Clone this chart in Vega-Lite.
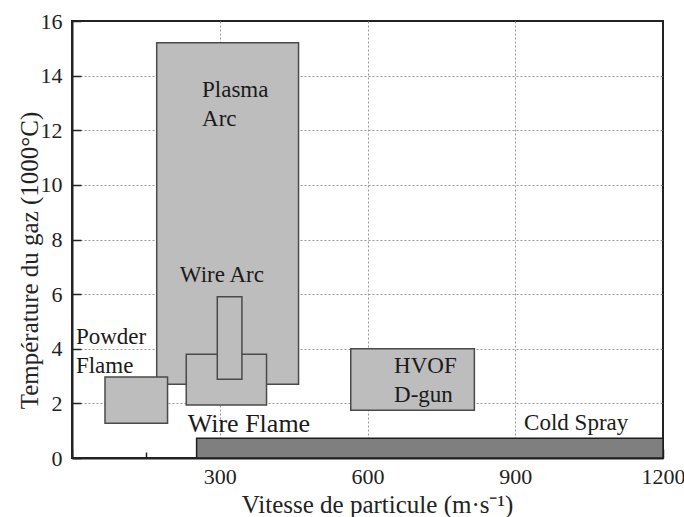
{
  "$schema": "https://vega.github.io/schema/vega-lite/v6.json",
  "width": 591,
  "height": 437,
  "autosize": "none",
  "padding": {"left": 72, "top": 21, "right": 21, "bottom": 59},
  "background": "white",
  "config": {
    "view": {"stroke": "#222222", "strokeWidth": 2},
    "font": "Liberation Serif"
  },
  "datasets": {
    "rects": [
      {"name": "Plasma Arc", "x": 172, "x2": 460, "y": 2.7, "y2": 15.2, "kind": "light"},
      {"name": "Powder Flame", "x": 67, "x2": 194, "y": 1.27, "y2": 2.97, "kind": "light"},
      {"name": "Wire Flame", "x": 232, "x2": 395, "y": 1.94, "y2": 3.8, "kind": "light"},
      {"name": "Wire Arc", "x": 295, "x2": 345, "y": 2.88, "y2": 5.9, "kind": "light"},
      {"name": "HVOF D-gun", "x": 566, "x2": 817, "y": 1.75, "y2": 4.0, "kind": "light"},
      {"name": "Cold Spray", "x": 253, "x2": 1200, "y": 0, "y2": 0.72, "kind": "dark"}
    ],
    "labels": [
      {"label": "Plasma", "x": 264, "y": 13.23},
      {"label": "Arc", "x": 264, "y": 12.17},
      {"label": "Wire Arc", "x": 219, "y": 6.44},
      {"label": "Powder", "x": 8, "y": 4.17},
      {"label": "Flame", "x": 8, "y": 3.12},
      {"label": "Wire Flame", "x": 235, "y": 0.96},
      {"label": "HVOF", "x": 654, "y": 3.12},
      {"label": "D-gun", "x": 654, "y": 2.06},
      {"label": "Cold Spray", "x": 918, "y": 1.03}
    ]
  },
  "layer": [
    {
      "data": {"name": "rects"},
      "mark": {"type": "rect", "strokeWidth": 1.5},
      "encoding": {
        "x": {
          "field": "x", "type": "quantitative",
          "scale": {"domain": [0, 1200], "nice": false, "zero": false},
          "axis": {
            "title": "Vitesse de particule (m·s⁻¹)",
            "values": [0, 150, 300, 450, 600, 750, 900, 1050, 1200],
            "format": "d",
            "labelExpr": "(datum.value % 300 == 0 && datum.value > 0) ? datum.label : ''",
            "labelFont": "Liberation Serif", "labelFontSize": 22, "labelColor": "#222",
            "labelPadding": 17, "labelFlush": false, "labelOverlap": false,
            "tickSize": {"condition": {"test": "datum.value % 300 == 0", "value": -9}, "value": -6},
            "tickColor": "#222", "tickWidth": 1.5,
            "domainColor": "#222", "domainWidth": 2,
            "grid": true,
            "gridDash": [2, 2], "gridColor": "#999", "gridWidth": 1,
            "gridOpacity": {"condition": {"test": "datum.value % 300 == 0 && datum.value > 0 && datum.value < 1200", "value": 1}, "value": 0},
            "titleFont": "Liberation Serif", "titleFontSize": 25, "titleFontWeight": "normal", "titleColor": "#222",
            "titleX": 305, "titleY": 54, "titleBaseline": "alphabetic"
          }
        },
        "x2": {"field": "x2"},
        "y": {
          "field": "y", "type": "quantitative",
          "scale": {"domain": [0, 16], "nice": false, "zero": false},
          "axis": {
            "title": "Température du gaz (1000°C)",
            "values": [0, 1, 2, 3, 4, 5, 6, 7, 8, 9, 10, 11, 12, 13, 14, 15, 16],
            "labelExpr": "datum.value % 2 == 0 ? datum.label : ''",
            "labelFont": "Liberation Serif", "labelFontSize": 22, "labelColor": "#222",
            "labelPadding": 19, "labelFlush": false, "labelOverlap": false,
            "tickSize": {"condition": {"test": "datum.value % 2 == 0", "value": -9}, "value": -6},
            "tickColor": "#222", "tickWidth": 1.5,
            "domainColor": "#222", "domainWidth": 2,
            "grid": true,
            "gridDash": [2, 2], "gridColor": "#999", "gridWidth": 1,
            "gridOpacity": {"condition": {"test": "datum.value % 2 == 0 && datum.value > 0 && datum.value < 16", "value": 1}, "value": 0},
            "titleFont": "Liberation Serif", "titleFontSize": 25, "titleFontWeight": "normal", "titleColor": "#222",
            "titleY": 239, "titlePadding": -2
          }
        },
        "y2": {"field": "y2"},
        "fill": {
          "field": "kind", "type": "nominal",
          "scale": {"domain": ["light", "dark"], "range": ["#bdbdbd", "#7f7f7f"]},
          "legend": null
        },
        "stroke": {
          "field": "kind", "type": "nominal",
          "scale": {"domain": ["light", "dark"], "range": ["#4a4a4a", "#1e1e1e"]},
          "legend": null
        },
        "order": {"value": 0}
      }
    },
    {
      "data": {"name": "labels"},
      "mark": {"type": "text", "align": "left", "baseline": "alphabetic", "font": "Liberation Serif", "color": "#1a1a1a"},
      "encoding": {
        "x": {"field": "x", "type": "quantitative"},
        "y": {"field": "y", "type": "quantitative"},
        "text": {"field": "label"},
        "size": {"condition": {"test": "datum.label == 'Wire Flame'", "value": 26}, "value": 23}
      }
    }
  ]
}
